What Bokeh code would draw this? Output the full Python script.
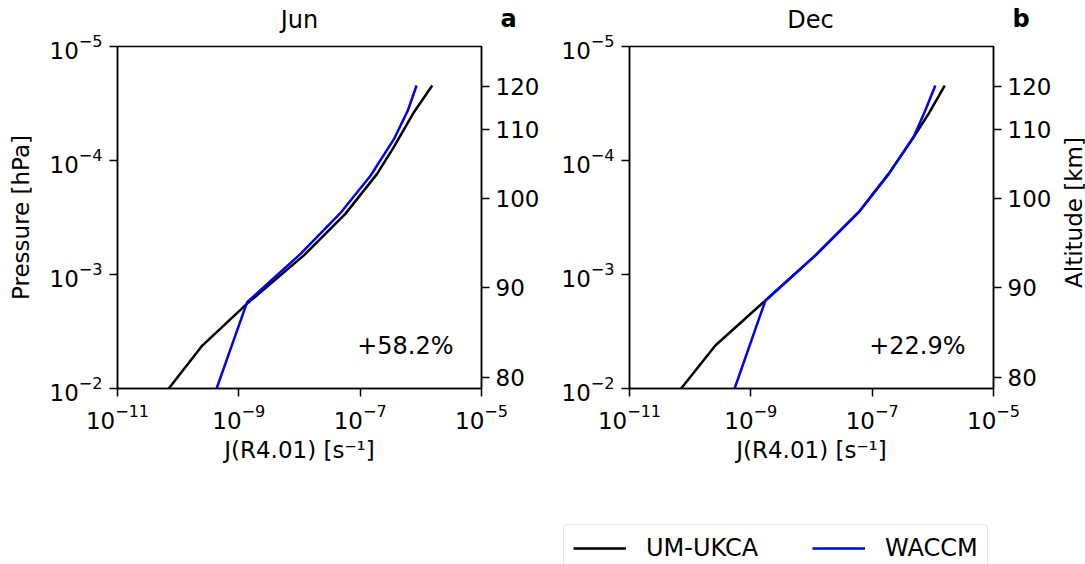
import math
from bokeh.plotting import figure
from bokeh.layouts import row, column
from bokeh.models import (Range1d, LogAxis, FixedTicker, CustomJSTickFormatter,
                          Label, Legend, LegendItem)
from bokeh.embed import file_html
from bokeh.resources import INLINE

FONT = "DejaVu Sans"
FS = "24px"
FS_AX = "23px"
FS_TICK = "23px"

# ---- data ----
j_ticks = [1e-11, 1e-9, 1e-7, 1e-5]
p_ticks = [1e-5, 1e-4, 1e-3, 1e-2]
alt_labels = ["80", "90", "100", "110", "120"]
alt_pressure = [7.96e-3, 1.30e-3, 2.15e-4, 5.38e-5, 2.23e-5]

jun_ukca_j = [7.0e-11, 2.5e-10, 1.37e-9, 1.18e-8, 5.7e-8, 1.9e-7, 3.6e-7, 7.7e-7, 1.54e-6]
jun_ukca_p = [1.0e-2, 4.2e-3, 1.8e-3, 6.8e-4, 2.94e-4, 1.31e-4, 7.6e-5, 3.77e-5, 2.2e-5]
jun_waccm_j = [4.3e-10, 1.37e-9, 1.04e-8, 4.7e-8, 1.48e-7, 3.6e-7, 6.1e-7, 8.5e-7]
jun_waccm_p = [1.0e-2, 1.75e-3, 6.6e-4, 2.9e-4, 1.36e-4, 6.5e-5, 3.64e-5, 2.2e-5]

dec_ukca_j = [7.1e-11, 2.6e-10, 1.74e-9, 1.16e-8, 6.0e-8, 1.87e-7, 4.8e-7, 8.5e-7, 1.57e-6]
dec_ukca_p = [1.0e-2, 4.2e-3, 1.69e-3, 6.8e-4, 2.84e-4, 1.31e-4, 6.25e-5, 3.9e-5, 2.2e-5]
dec_waccm_j = [5.4e-10, 1.74e-9, 1.16e-8, 6.0e-8, 1.87e-7, 4.8e-7, 7.5e-7, 1.1e-6]
dec_waccm_p = [1.0e-2, 1.69e-3, 6.8e-4, 2.84e-4, 1.31e-4, 6.25e-5, 3.64e-5, 2.2e-5]

titles = ["Jun", "Dec"]
letters = ["a", "b"]
pct_texts = ["+58.2%", "+22.9%"]
series_names = ["UM-UKCA", "WACCM"]
series_colors = ["black", "#0000ee"]

HEADER_H = 33
TOP = 46 - HEADER_H
BOTTOM = 127
ROW_H = TOP + 342 + BOTTOM


def style_axis(ax):
    ax.major_label_text_font = FONT
    ax.major_label_text_font_size = FS_TICK
    ax.axis_label_text_font = FONT
    ax.axis_label_text_font_size = FS_AX
    ax.axis_label_text_font_style = "normal"
    ax.major_tick_in = 0
    ax.major_tick_out = 8
    ax.minor_tick_in = 0
    ax.minor_tick_out = 0
    ax.major_tick_line_width = 1.5
    ax.axis_line_width = 1.5
    ax.axis_line_color = "black"
    ax.major_tick_line_color = "black"
    ax.major_label_text_color = "black"
    ax.axis_label_text_color = "black"
    ax.major_label_standoff = 7


def make_panel(idx, uk_j, uk_p, wa_j, wa_p, mbl, mbr, left_label):
    p = figure(frame_width=364, frame_height=342, title=None,
               x_axis_type="log", y_axis_type="log",
               x_range=Range1d(1e-11, 1e-5), y_range=Range1d(1e-2, 1e-5),
               output_backend="svg", toolbar_location=None,
               min_border_left=mbl, min_border_right=mbr,
               min_border_top=TOP, min_border_bottom=BOTTOM,
               background_fill_color="white", border_fill_color="white")
    p.outline_line_color = "black"
    p.outline_line_width = 1.5
    p.grid.visible = False

    p.xaxis.ticker = FixedTicker(ticks=j_ticks, minor_ticks=[])
    p.yaxis.ticker = FixedTicker(ticks=p_ticks, minor_ticks=[])
    p.xaxis.axis_label = "J(R4.01) [s\u207b\u00b9]"
    style_axis(p.xaxis[0])
    style_axis(p.yaxis[0])
    if left_label:
        p.yaxis.axis_label = "Pressure [hPa]"
        p.yaxis.axis_label_standoff = 13

    fmt = CustomJSTickFormatter(args=dict(pp=alt_pressure, lab=alt_labels), code="""
        let best = 0, bd = 1e9;
        for (let i = 0; i < pp.length; i++) {
            const d = Math.abs(Math.log10(pp[i]) - Math.log10(tick));
            if (d < bd) { bd = d; best = i; }
        }
        return lab[best];
    """)
    rax = LogAxis(ticker=FixedTicker(ticks=alt_pressure, minor_ticks=[]), formatter=fmt)
    style_axis(rax)
    rax.major_label_standoff = 6
    p.add_layout(rax, "right")

    p.line(uk_j, uk_p, line_color=series_colors[0], line_width=2.5)
    p.line(wa_j, wa_p, line_color=series_colors[1], line_width=2.5)

    p.add_layout(Label(x=336, y=43, x_units="screen", y_units="screen",
                       text=pct_texts[idx], text_font=FONT, text_font_size=FS,
                       text_align="right", text_baseline="middle", text_color="black"))
    return p


def blank(width, height, xr=(0, 1), yr=(0, 1)):
    f = figure(width=width, height=height, min_border=0,
               x_axis_location=None, y_axis_location=None,
               x_range=Range1d(*xr), y_range=Range1d(*yr), title=None,
               output_backend="svg", toolbar_location=None, outline_line_color=None)
    f.grid.visible = False
    return f


pa = make_panel(0, jun_ukca_j, jun_ukca_p, jun_waccm_j, jun_waccm_p, 117, 59, True)
pb = make_panel(1, dec_ukca_j, dec_ukca_p, dec_waccm_j, dec_waccm_p, 87, 63, False)

# strip right of panel b carrying the altitude axis title
# (its frame is aligned with the panel frames: 342 px tall, bottom at page y = 388)
pr = blank(1085 - 540 - (87 + 364 + 63), ROW_H)
pr.add_layout(Label(x=17, y=388 - 212, x_units="screen", y_units="screen",
                    text="Altitude [km]", text_font=FONT, text_font_size=FS_AX,
                    angle=math.pi / 2, text_align="center", text_baseline="middle",
                    text_color="black"))

# header strip with panel titles and letters
ph = blank(1085, HEADER_H)
title_x = [299, 810]
letter_x = [500, 1012]
for i in range(2):
    ph.add_layout(Label(x=title_x[i], y=0, x_units="screen", y_units="screen",
                        text=titles[i], text_font=FONT, text_font_size=FS,
                        text_align="center", text_baseline="bottom", text_color="black"))
    ph.add_layout(Label(x=letter_x[i], y=1, x_units="screen", y_units="screen",
                        text=letters[i], text_font=FONT, text_font_size=FS,
                        text_font_style="bold", text_baseline="bottom", text_color="black"))

# legend strip below the panels
pl = blank(1085, 564 - HEADER_H - ROW_H, xr=(10, 11), yr=(10, 11))
l1 = pl.line(jun_ukca_j, jun_ukca_p, line_color=series_colors[0], line_width=2.5)
l2 = pl.line(jun_waccm_j, jun_waccm_p, line_color=series_colors[1], line_width=2.5)
lg = Legend(items=[LegendItem(label=series_names[0], renderers=[l1]),
                   LegendItem(label=series_names[1], renderers=[l2])],
            orientation="horizontal", location=(563, -8),
            label_text_font=FONT, label_text_font_size=FS, label_text_color="black",
            glyph_width=53, glyph_height=24, label_standoff=20,
            spacing=54, padding=9, margin=0,
            border_line_color="#cccccc", border_line_width=1.5,
            background_fill_alpha=1.0)
try:
    lg.border_radius = 4
except Exception:
    pass
pl.add_layout(lg)

layout = column(ph, row(pa, pb, pr), pl)
open("out.html", "w").write(file_html(layout, INLINE))
